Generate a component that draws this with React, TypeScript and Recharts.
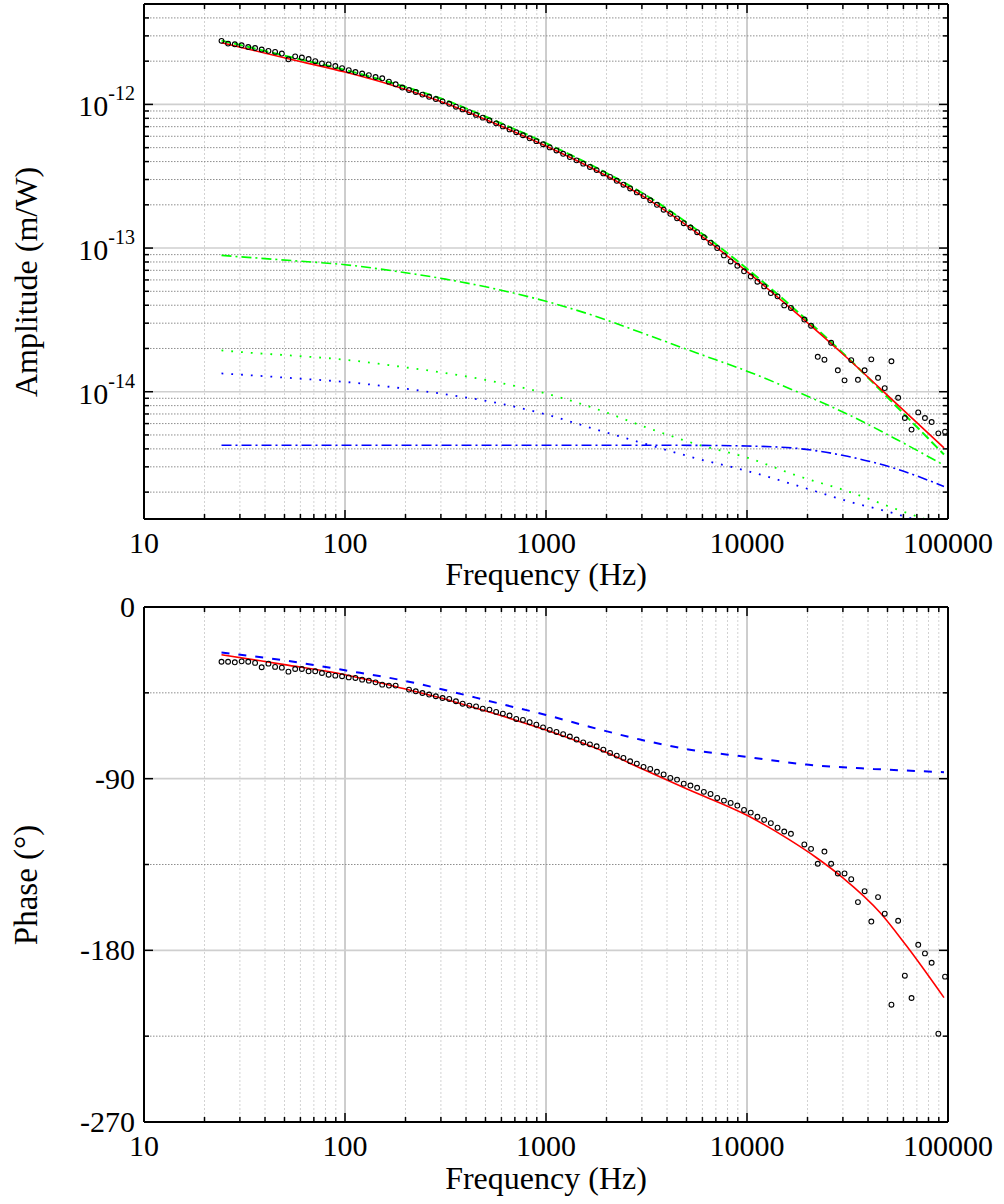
import React from "react";
import { ComposedChart, Line, Scatter, XAxis, YAxis, ReferenceLine } from "recharts";

const FONT = "'Liberation Serif', Tinos, 'Times New Roman', 'DejaVu Serif', 'Noto Serif', serif";
const textStyle = { fontFamily: FONT };

// measured frequencies (Hz), shared by amplitude and phase
const freqs = [
  24.3, 26.2, 28.3, 30.6, 33.0, 35.7, 38.5, 41.6, 44.9, 48.5,
  52.3, 56.5, 61.0, 65.9, 71.1, 76.8, 82.9, 89.5, 96.7, 104.4,
  112.7, 121.7, 131.4, 141.9, 153.2, 165.4, 178.6, 192.9, 208.2, 224.9,
  242.8, 262.2, 283.1, 305.7, 330.1, 356.4, 384.8, 415.5, 448.7, 484.5,
  523.1, 564.9, 610.0, 658.6, 711.2, 767.9, 829.2, 895.4, 966.8, 1044,
  1127, 1217, 1314, 1419, 1532, 1654, 1786, 1929, 2083, 2249,
  2428, 2622, 2831, 3057, 3301, 3564, 3848, 4155, 4487, 4845,
  5231, 5649, 6099, 6586, 7111, 7679, 8291, 8953, 9667, 10440,
  11270, 12170, 13140, 14190, 15320, 16540, 17860, 19290, 20830, 22490,
  24280, 26220, 28310, 30570, 33010, 35640, 38480, 41550, 44870, 48450,
  52310, 56490, 60990, 65860, 71110, 76790, 82910, 89530, 96670,
];

// measured amplitude (m/W), null = no point
const ampMeasured = [
  2.77e-12, 2.65e-12, 2.62e-12, 2.58e-12, 2.51e-12, 2.47e-12, 2.41e-12, 2.36e-12, 2.32e-12, 2.26e-12,
  2.06e-12, 2.16e-12, 2.12e-12, 2.07e-12, 2.0e-12, 1.93e-12, 1.9e-12, 1.85e-12, 1.79e-12, 1.73e-12,
  1.68e-12, 1.64e-12, 1.6e-12, 1.55e-12, 1.52e-12, 1.44e-12, 1.38e-12, 1.31e-12, 1.26e-12, 1.22e-12,
  1.17e-12, 1.13e-12, 1.09e-12, 1.05e-12, 1.01e-12, 9.64e-13, 9.23e-13, 8.83e-13, 8.45e-13, 8.09e-13,
  7.73e-13, 7.38e-13, 7.03e-13, 6.7e-13, 6.4e-13, 6.1e-13, 5.81e-13, 5.55e-13, 5.28e-13, 5.02e-13,
  4.78e-13, 4.53e-13, 4.3e-13, 4.08e-13, 3.87e-13, 3.67e-13, 3.49e-13, 3.31e-13, 3.13e-13, 2.94e-13,
  2.76e-13, 2.6e-13, 2.44e-13, 2.3e-13, 2.15e-13, 2.0e-13, 1.85e-13, 1.73e-13, 1.61e-13, 1.49e-13,
  1.39e-13, 1.29e-13, 1.19e-13, 1.09e-13, 1.0e-13, 8.89e-14, 8.07e-14, 7.53e-14, 6.89e-14, 6.35e-14,
  5.83e-14, 5.41e-14, 4.86e-14, 4.61e-14, 3.99e-14, 3.83e-14, null, 3.18e-14, 2.88e-14, 1.75e-14,
  1.67e-14, 2.19e-14, 1.41e-14, 1.2e-14, 1.66e-14, 1.21e-14, 1.41e-14, 1.68e-14, 1.25e-14, 1.06e-14,
  1.63e-14, 9.08e-15, 6.56e-15, 5.45e-15, 7.18e-15, 6.56e-15, 6.15e-15, 5.13e-15, 5.27e-15,
];

// measured phase (deg), null = no point
const phaseMeasured = [
  -28.7, -28.7, -29.0, -28.5, -28.7, -29.3, -31.6, -29.7, -31.4, -31.8,
  -33.9, -32.5, -32.5, -33.7, -33.7, -34.6, -35.5, -36.0, -36.3, -36.9,
  -37.2, -38.1, -38.6, -39.5, -40.7, -41.2, -41.2, null, -43.3, -44.2,
  -45.1, -45.9, -46.8, -47.7, -48.2, -49.4, -50.7, -51.7, -52.1, -53.3,
  -53.8, -55.0, -55.9, -56.9, -58.7, -59.2, -60.4, -61.7, -63.1, -64.4,
  -65.5, -66.7, -67.9, -69.5, -71.0, -72.0, -73.0, -74.8, -76.5, -77.9,
  -79.1, -80.9, -82.1, -83.8, -84.9, -86.4, -87.8, -89.6, -90.5, -92.6,
  -93.6, -94.8, -96.9, -98.0, -100.1, -101.5, -102.7, -104.1, -106.4, -107.8,
  -110.0, -111.6, -113.3, -115.7, -117.7, -118.9, null, -124.5, -126.8, -134.6,
  -128.2, -134.6, -139.7, -139.7, -142.7, -154.7, -149.0, -164.9, -152.1, -160.8,
  -208.5, -164.5, -193.3, -205.0, -177.1, -181.6, -186.5, -223.7, -193.8,
];

// model curves, amplitude panel
const fitFreqs = [24.3, 31.6, 56.2, 100, 178, 316, 562, 1000, 1778, 3162, 5623, 10000, 17783, 31623, 56234, 95500];
const ampFit = [2.69e-12, 2.46e-12, 2.03e-12, 1.68e-12, 1.34e-12, 1.02e-12, 7.33e-13, 5.13e-13, 3.47e-13, 2.22e-13, 1.28e-13, 6.85e-14, 3.48e-14, 1.71e-14, 8.1e-15, 4.07e-15];
const ampGreenDashed = [2.78e-12, 2.55e-12, 2.1e-12, 1.74e-12, 1.39e-12, 1.07e-12, 7.67e-13, 5.37e-13, 3.63e-13, 2.32e-13, 1.34e-13, 7.18e-14, 3.62e-14, 1.73e-14, 7.74e-15, 3.66e-15];
const ampGreenDashDot = [8.89e-14, 8.65e-14, 8.15e-14, 7.66e-14, 6.9e-14, 6.08e-14, 5.19e-14, 4.26e-14, 3.34e-14, 2.5e-14, 1.86e-14, 1.39e-14, 9.98e-15, 6.98e-15, 4.61e-15, 3.08e-15];
const ampGreenDotted = [1.94e-14, 1.88e-14, 1.78e-14, 1.67e-14, 1.51e-14, 1.35e-14, 1.17e-14, 9.72e-15, 7.59e-15, 5.64e-15, 4.31e-15, 3.48e-15, 2.6e-15, 2.03e-15, 1.51e-15, 1.17e-15];
const ampBlueDotted = [1.34e-14, 1.31e-14, 1.24e-14, 1.17e-14, 1.07e-14, 9.59e-15, 8.39e-15, 6.95e-15, 5.45e-15, 4.31e-15, 3.43e-15, 2.81e-15, 2.22e-15, 1.73e-15, 1.4e-15, 1.1e-15];
const ampBlueDashDot = [4.24e-15, 4.24e-15, 4.24e-15, 4.24e-15, 4.24e-15, 4.24e-15, 4.24e-15, 4.24e-15, 4.24e-15, 4.24e-15, 4.23e-15, 4.19e-15, 4.03e-15, 3.55e-15, 2.88e-15, 2.19e-15];

// model curves, phase panel
const phaseFitFreqs = [24.3, 50, 100, 200, 300, 500, 1000, 2000, 3000, 5000, 10000, 16000, 22000, 30000, 46000, 62000, 95500];
const phaseFit = [-25.0, -30.2, -35.5, -43.0, -47.7, -54.5, -64.5, -76.3, -84.8, -95.3, -109.2, -121.6, -131.2, -142.0, -160.3, -177.5, -204.8];
const phaseBlueFreqs = [24.3, 50, 100, 200, 276, 590, 1000, 1660, 2940, 5200, 10000, 19800, 42500, 95500];
const phaseBlue = [-23.9, -28.0, -33.2, -38.8, -42.1, -50.7, -56.6, -62.9, -69.5, -74.8, -78.6, -82.6, -84.9, -86.6];

// axes
const xTicks = [
  10, 20, 30, 40, 50, 60, 70, 80, 90,
  100, 200, 300, 400, 500, 600, 700, 800, 900,
  1000, 2000, 3000, 4000, 5000, 6000, 7000, 8000, 9000,
  10000, 20000, 30000, 40000, 50000, 60000, 70000, 80000, 90000, 100000,
];
const ampTicks = [
  2e-15, 3e-15, 4e-15, 5e-15, 6e-15, 7e-15, 8e-15, 9e-15,
  1e-14, 2e-14, 3e-14, 4e-14, 5e-14, 6e-14, 7e-14, 8e-14, 9e-14,
  1e-13, 2e-13, 3e-13, 4e-13, 5e-13, 6e-13, 7e-13, 8e-13, 9e-13,
  1e-12, 2e-12, 3e-12, 4e-12,
];
const phaseTicks = [0, -45, -90, -135, -180, -225, -270];

const toPoints = (fs: number[], vs: (number | null)[]) =>
  fs.map((f, i) => ({ f, v: vs[i] })).filter((p) => p.v != null);

const isDecade = (v: number) => {
  const l = Math.log10(v);
  return Math.abs(l - Math.round(l)) < 1e-6;
};
const isRightAngle = (v: number) => v % 90 === 0;

const xGrid = xTicks.filter((v) => v > 10 && v < 100000);
const phaseGrid = phaseTicks.filter((v) => v < 0 && v > -270);

function BottomTick(props: any) {
  const { x, y, payload } = props;
  const major = isDecade(payload.value);
  return (
    <g>
      <line x1={x} x2={x} y1={y} y2={y - (major ? 9 : 5)} stroke="#000" strokeWidth={1.5} />
      {major && (
        <text x={x} y={y + 34} textAnchor="middle" fontSize={30} style={textStyle} fill="#000">
          {payload.value}
        </text>
      )}
    </g>
  );
}

function TopTick(props: any) {
  const { x, y, payload } = props;
  const major = isDecade(payload.value);
  return <line x1={x} x2={x} y1={y} y2={y + (major ? 9 : 5)} stroke="#000" strokeWidth={1.5} />;
}

function AmpLeftTick(props: any) {
  const { x, y, payload } = props;
  const major = isDecade(payload.value);
  return (
    <g>
      <line x1={x} x2={x + (major ? 9 : 5)} y1={y} y2={y} stroke="#000" strokeWidth={1.5} />
      {major && (
        <text x={x - 9} y={y + 12} textAnchor="end" fontSize={30} style={textStyle} fill="#000">
          <tspan>10</tspan>
          <tspan dy={-16} fontSize={20}>
            {Math.round(Math.log10(payload.value))}
          </tspan>
        </text>
      )}
    </g>
  );
}

function PhaseLeftTick(props: any) {
  const { x, y, payload } = props;
  const major = isRightAngle(payload.value);
  return (
    <g>
      <line x1={x} x2={x + (major ? 9 : 5)} y1={y} y2={y} stroke="#000" strokeWidth={1.5} />
      {major && (
        <text x={x - 9} y={y + 10} textAnchor="end" fontSize={30} style={textStyle} fill="#000">
          {payload.value}
        </text>
      )}
    </g>
  );
}

const makeRightTick = (isMajor: (v: number) => boolean) => (props: any) => {
  const { x, y, payload } = props;
  const len = isMajor(payload.value) ? 9 : 5;
  return <line x1={x} x2={x - len} y1={y} y2={y} stroke="#000" strokeWidth={1.5} />;
};

const frame = { stroke: "#000", strokeWidth: 2 };

const openCircle = (props: any) => (
  <circle cx={props.cx} cy={props.cy} r={2.4} fill="none" stroke="#000" strokeWidth={1.1} />
);

export default function App() {
  const ampPoints = toPoints(freqs, ampMeasured);
  const phasePoints = toPoints(freqs, phaseMeasured);

  const vGrid = (prefix: string) =>
    xGrid.map((v) => (
      <ReferenceLine
        key={prefix + v}
        x={v}
        stroke={isDecade(v) ? "#9c9c9c" : "#d2d2d2"}
        strokeWidth={1}
        strokeDasharray={isDecade(v) ? undefined : "2 2"}
      />
    ));

  return (
    <div style={{ position: "absolute", left: 0, top: 0, width: 1004, height: 1204, background: "#fff", fontFamily: FONT }}>
      <div style={{ position: "absolute", left: 0, top: 0 }}>
        <ComposedChart width={1004} height={596} margin={{ top: 3, right: 55, bottom: 76, left: 143 }}>
          {vGrid("a")}
          {ampTicks.map((v) => (
            <ReferenceLine
              key={"h" + v}
              y={v}
              stroke={isDecade(v) ? "#cfcfcf" : "#8e8e8e"}
              strokeWidth={isDecade(v) ? 1.6 : 1}
              strokeDasharray={isDecade(v) ? undefined : "1.5 1.5"}
            />
          ))}
          <XAxis
            dataKey="f"
            type="number"
            scale="log"
            domain={[10, 100000]}
            allowDataOverflow
            ticks={xTicks}
            interval={0}
            height={1}
            tickSize={0}
            tickMargin={0}
            tickLine={false}
            axisLine={frame}
            tick={(p: any) => <BottomTick {...p} />}
            label={() => (
              <text x={546} y={585} textAnchor="middle" fontSize={32} style={textStyle} fill="#000">
                Frequency (Hz)
              </text>
            )}
          />
          <XAxis
            xAxisId="top"
            orientation="top"
            dataKey="f"
            type="number"
            scale="log"
            domain={[10, 100000]}
            allowDataOverflow
            ticks={xTicks}
            interval={0}
            height={1}
            tickSize={0}
            tickMargin={0}
            tickLine={false}
            axisLine={frame}
            tick={(p: any) => <TopTick {...p} />}
          />
          <YAxis
            dataKey="v"
            type="number"
            scale="log"
            domain={[1.3e-15, 5e-12]}
            allowDataOverflow
            ticks={ampTicks}
            interval={0}
            width={1}
            tickSize={0}
            tickMargin={0}
            tickLine={false}
            axisLine={frame}
            tick={(p: any) => <AmpLeftTick {...p} />}
            label={() => (
              <text
                x={37}
                y={282}
                transform="rotate(-90, 37, 282)"
                textAnchor="middle"
                fontSize={32}
                style={textStyle}
                fill="#000"
              >
                Amplitude (m/W)
              </text>
            )}
          />
          <YAxis
            yAxisId="right"
            orientation="right"
            type="number"
            scale="log"
            domain={[1.3e-15, 5e-12]}
            allowDataOverflow
            ticks={ampTicks}
            interval={0}
            width={1}
            tickSize={0}
            tickMargin={0}
            tickLine={false}
            axisLine={frame}
            tick={makeRightTick(isDecade)}
          />
          <Line data={toPoints(fitFreqs, ampGreenDashDot)} dataKey="v" type="monotone" stroke="#00ff00" strokeWidth={1.6} strokeDasharray="10 4 2 4" dot={false} activeDot={false} isAnimationActive={false} />
          <Line data={toPoints(fitFreqs, ampGreenDotted)} dataKey="v" type="monotone" stroke="#00ff00" strokeWidth={1.8} strokeDasharray="1.8 8" dot={false} activeDot={false} isAnimationActive={false} />
          <Line data={toPoints(fitFreqs, ampBlueDotted)} dataKey="v" type="monotone" stroke="#0000ff" strokeWidth={1.8} strokeDasharray="1.8 8" dot={false} activeDot={false} isAnimationActive={false} />
          <Line data={toPoints(fitFreqs, ampBlueDashDot)} dataKey="v" type="monotone" stroke="#0000ff" strokeWidth={1.6} strokeDasharray="10 4 2 4" dot={false} activeDot={false} isAnimationActive={false} />
          <Scatter data={ampPoints} shape={openCircle} isAnimationActive={false} />
          <Line data={toPoints(fitFreqs, ampGreenDashed)} dataKey="v" type="monotone" stroke="#00ff00" strokeWidth={2} strokeDasharray="9 4" dot={false} activeDot={false} isAnimationActive={false} />
          <Line data={toPoints(fitFreqs, ampFit)} dataKey="v" type="monotone" stroke="#ff0000" strokeWidth={1.6} dot={false} activeDot={false} isAnimationActive={false} />
        </ComposedChart>
      </div>

      {/* transparent svg overlapping the upper chart's bottom margin, so the "0" label has room */}
      <div style={{ position: "absolute", left: 0, top: 575 }}>
        <ComposedChart width={1004} height={629} margin={{ top: 31, right: 55, bottom: 81, left: 143 }}>
          {vGrid("b")}
          {phaseGrid.map((v) => (
            <ReferenceLine
              key={"p" + v}
              y={v}
              stroke={isRightAngle(v) ? "#cfcfcf" : "#8e8e8e"}
              strokeWidth={isRightAngle(v) ? 1.6 : 1}
              strokeDasharray={isRightAngle(v) ? undefined : "1.5 1.5"}
            />
          ))}
          <XAxis
            dataKey="f"
            type="number"
            scale="log"
            domain={[10, 100000]}
            allowDataOverflow
            ticks={xTicks}
            interval={0}
            height={1}
            tickSize={0}
            tickMargin={0}
            tickLine={false}
            axisLine={frame}
            tick={(p: any) => <BottomTick {...p} />}
            label={() => (
              <text x={546} y={614} textAnchor="middle" fontSize={32} style={textStyle} fill="#000">
                Frequency (Hz)
              </text>
            )}
          />
          <XAxis
            xAxisId="top"
            orientation="top"
            dataKey="f"
            type="number"
            scale="log"
            domain={[10, 100000]}
            allowDataOverflow
            ticks={xTicks}
            interval={0}
            height={1}
            tickSize={0}
            tickMargin={0}
            tickLine={false}
            axisLine={frame}
            tick={(p: any) => <TopTick {...p} />}
          />
          <YAxis
            dataKey="v"
            type="number"
            domain={[-270, 0]}
            allowDataOverflow
            ticks={phaseTicks}
            interval={0}
            width={1}
            tickSize={0}
            tickMargin={0}
            tickLine={false}
            axisLine={frame}
            tick={(p: any) => <PhaseLeftTick {...p} />}
            label={() => (
              <text
                x={37}
                y={310}
                transform="rotate(-90, 37, 310)"
                textAnchor="middle"
                fontSize={33}
                style={textStyle}
                fill="#000"
              >
                Phase (°)
              </text>
            )}
          />
          <YAxis
            yAxisId="right"
            orientation="right"
            type="number"
            domain={[-270, 0]}
            allowDataOverflow
            ticks={phaseTicks}
            interval={0}
            width={1}
            tickSize={0}
            tickMargin={0}
            tickLine={false}
            axisLine={frame}
            tick={makeRightTick(isRightAngle)}
          />
          <Scatter data={phasePoints} shape={openCircle} isAnimationActive={false} />
          <Line data={toPoints(phaseBlueFreqs, phaseBlue)} dataKey="v" type="monotone" stroke="#0000ff" strokeWidth={2} strokeDasharray="8 9" dot={false} activeDot={false} isAnimationActive={false} />
          <Line data={toPoints(phaseFitFreqs, phaseFit)} dataKey="v" type="monotone" stroke="#ff0000" strokeWidth={1.6} dot={false} activeDot={false} isAnimationActive={false} />
        </ComposedChart>
      </div>
    </div>
  );
}
